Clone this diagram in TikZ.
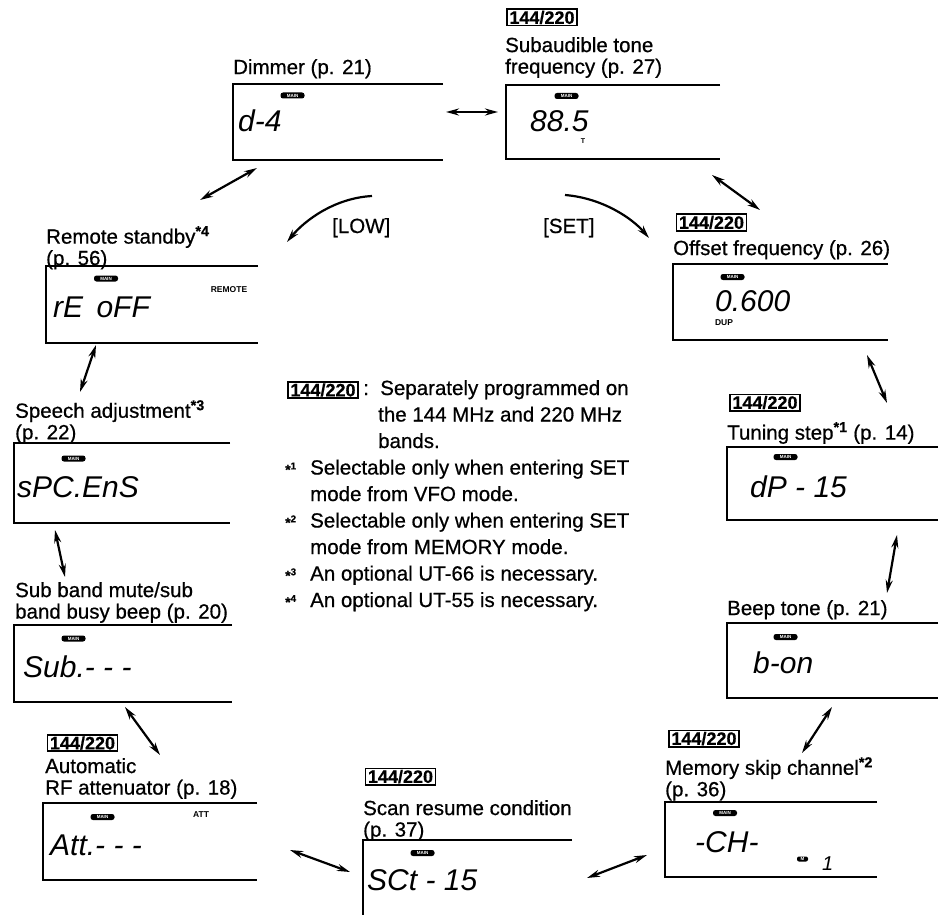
\documentclass[tikz,border=0pt]{standalone}
\usepackage{fontspec}
\setmainfont{Liberation Sans}[UprightFeatures={FakeBold=0.6},BoldFeatures={FakeBold=0.5}]
\newfontfamily\lcdfont{Liberation Sans}
\usetikzlibrary{arrows.meta}
\begin{document}
\begin{tikzpicture}[x=1pt,y=-1pt,
  lbl/.style={anchor=north west,inner sep=0pt,align=left,font=\fontsize{20.5}{21.5}\selectfont},
  bandbox/.style={draw,line width=1.6pt,inner xsep=2.5pt,inner ysep=1.5pt,font=\fontsize{18}{18}\selectfont\bfseries},
  lcdframe/.style={line width=1.5pt},
  lcdtxt/.style={anchor=base west,inner sep=0pt,font=\lcdfont\fontsize{30}{30}\selectfont\itshape},
  badge/.style={fill=black,rounded corners=2.5pt,minimum width=24pt,minimum height=6pt,inner sep=0pt,text=white,font=\lcdfont\fontsize{4.5}{5}\selectfont\bfseries},
  smalltag/.style={inner sep=0pt,font=\lcdfont\fontsize{8.5}{9}\selectfont\bfseries},
  dbl/.style={line width=2.2pt,{Stealth[length=13pt,width=7pt]}-{Stealth[length=13pt,width=7pt]}},
  sgl/.style={line width=2.2pt,-{Stealth[length=13pt,width=7pt]}},
  leg/.style={anchor=base west,inner sep=0pt,font=\fontsize{20.5}{21}\selectfont},
  star/.style={anchor=base west,inner sep=0pt,font=\fontsize{14}{14}\selectfont\bfseries},
]
\fill[white] (0,0) rectangle (940,915);
\useasboundingbox (0,0) rectangle (940,915);

% ---------- labels ----------
\node[bandbox] (bsub) at (542,17.5) {144/220};
\node[lbl] (lsub) at (505,37) {Subaudible tone\\frequency (p. 27)};
\node[lbl] (ldim) at (233,59) {Dimmer (p. 21)};
\node[lbl] (lrem) at (46,226) {Remote standby\textsuperscript{\bfseries *4}\\(p. 56)};
\node[bandbox] (boff) at (711.5,222.5) {144/220};
\node[lbl] (loff) at (673,240) {Offset frequency (p. 26)};
\node[lbl] (lspe) at (15,400) {Speech adjustment\textsuperscript{\bfseries *3}\\(p. 22)};
\node[bandbox] (btun) at (765,402.5) {144/220};
\node[lbl] (ltun) at (727,422) {Tuning step\textsuperscript{\bfseries *1} (p. 14)};
\node[lbl] (lsbb) at (15,582) {Sub band mute/sub\\band busy beep (p. 20)};
\node[lbl] (lbep) at (727,600) {Beep tone (p. 21)};
\node[bandbox] (brf) at (82.5,743) {144/220};
\node[lbl] (lrf) at (45,758) {Automatic\\RF attenuator (p. 18)};
\node[bandbox] (bmem) at (704,738.5) {144/220};
\node[lbl] (lmem) at (665,757) {Memory skip channel\textsuperscript{\bfseries *2}\\(p. 36)};
\node[bandbox] (bscn) at (400.5,776.5) {144/220};
\node[lbl] (lscn) at (363,800) {Scan resume condition\\(p. 37)};

% ---------- LCD frames (open on the right) ----------
\draw[lcdframe] (443,84) -- (233,84) -- (233,160) -- (443,160);
\draw[lcdframe] (720,85) -- (506,85) -- (506,159) -- (720,159);
\draw[lcdframe] (258,266) -- (46,266) -- (46,343) -- (258,343);
\draw[lcdframe] (888,264) -- (673,264) -- (673,340) -- (888,340);
\draw[lcdframe] (230,443) -- (14,443) -- (14,523) -- (230,523);
\draw[lcdframe] (938,447) -- (727,447) -- (727,520) -- (938,520);
\draw[lcdframe] (232,625) -- (14,625) -- (14,702) -- (232,702);
\draw[lcdframe] (938,623) -- (727,623) -- (727,698) -- (938,698);
\draw[lcdframe] (257,803) -- (43,803) -- (43,880) -- (257,880);
\draw[lcdframe] (877,802) -- (665,802) -- (665,877) -- (877,877);
\draw[lcdframe] (572,840) -- (363,840) -- (363,916);

% ---------- badges ----------
\node[badge] (mdim) at (292.5,95.5) {MAIN};
\node[badge] (msub) at (566.5,96) {MAIN};
\node[badge] (mrem) at (106,278.5) {MAIN};
\node[badge] (moff) at (732.5,277) {MAIN};
\node[badge] (mspe) at (73.5,458.5) {MAIN};
\node[badge] (mtun) at (785.5,457) {MAIN};
\node[badge] (msbb) at (73.5,638.5) {MAIN};
\node[badge] (mbep) at (785.5,637) {MAIN};
\node[badge] (mrf) at (102.5,817) {MAIN};
\node[badge] (mscn) at (422.5,853) {MAIN};
\node[badge] (mmem) at (725,813) {MAIN};
\node[badge,minimum width=11pt,minimum height=5pt,rounded corners=2pt] (mmm) at (802.5,859) {M};

% ---------- LCD readouts ----------
\node[lcdtxt] (ddim) at (238,132) {d-4};
\node[lcdtxt] (dsub) at (530,132) {88.5};
\node[smalltag,font=\lcdfont\fontsize{7}{7}\selectfont\bfseries] (tsub) at (583,141) {T};
\node[lcdtxt] (drem) at (53,317) {rE\, oFF};
\node[smalltag] (trem) at (229,290) {REMOTE};
\node[lcdtxt] (doff) at (715,311) {0.600};
\node[smalltag] (toff) at (724,323) {DUP};
\node[lcdtxt] (dspe) at (17,497) {sPC.EnS};
\node[lcdtxt] (dtun) at (750,497) {dP - 15};
\node[lcdtxt] (dsbb) at (23,677) {Sub.- - -};
\node[lcdtxt] (dbep) at (753,673) {b-on};
\node[lcdtxt] (drf) at (50,855) {Att.- - -};
\node[smalltag] (trf) at (201,815) {ATT};
\node[lcdtxt] (dscn) at (367,890) {SCt - 15};
\node[lcdtxt] (dmem) at (695,852) {-CH-};
\node[lcdtxt,font=\lcdfont\fontsize{20}{20}\selectfont\itshape] (dmem1) at (822,870) {1};

% ---------- key labels ----------
\node[leg] (klow) at (332,233) {[LOW]};
\node[leg] (kset) at (543,233) {[SET]};

% ---------- legend ----------
\node[bandbox] (bleg) at (323,390) {144/220};
\node[leg] (g1) at (363,395) {:\ \ Separately programmed on};
\node[leg] (g2) at (378,421.5) {the 144 MHz and 220 MHz};
\node[leg] (g3) at (378,448) {bands.};
\node[star] (s1) at (285,474.5) {*\textsuperscript{1}};
\node[leg] (g4) at (310,474.5) {Selectable only when entering SET};
\node[leg] (g5) at (310,501) {mode from VFO mode.};
\node[star] (s2) at (285,527.5) {*\textsuperscript{2}};
\node[leg] (g6) at (310,527.5) {Selectable only when entering SET};
\node[leg] (g7) at (310,554) {mode from MEMORY mode.};
\node[star] (s3) at (285,580.5) {*\textsuperscript{3}};
\node[leg] (g8) at (310,580.5) {An optional UT-66 is necessary.};
\node[star] (s4) at (285,607) {*\textsuperscript{4}};
\node[leg] (g9) at (310,607) {An optional UT-55 is necessary.};

% ---------- connector ends ----------
\coordinate (a1s) at (446,112);  \coordinate (a1e) at (498,112);
\coordinate (a2s) at (257,168);  \coordinate (a2e) at (200,200);
\coordinate (a3s) at (712,175);  \coordinate (a3e) at (760,210);
\coordinate (a4s) at (96,345);   \coordinate (a4e) at (80,392);
\coordinate (a5s) at (867,355);  \coordinate (a5e) at (887,403);
\coordinate (a6s) at (55,530);   \coordinate (a6e) at (65,577);
\coordinate (a7s) at (897,535);  \coordinate (a7e) at (887,593);
\coordinate (a8s) at (125,707);  \coordinate (a8e) at (160,755);
\coordinate (a9s) at (832,707);  \coordinate (a9e) at (802,753);
\coordinate (a10s) at (290,850); \coordinate (a10e) at (350,872);
\coordinate (a11s) at (587,878); \coordinate (a11e) at (647,855);
\coordinate (lows) at (372,196); \coordinate (lowe) at (287,242);
\coordinate (sets) at (565,195); \coordinate (sete) at (649,238);

\draw[dbl] (a1s) -- (a1e);
\draw[dbl] (a2s) -- (a2e);
\draw[dbl] (a3s) -- (a3e);
\draw[dbl] (a4s) -- (a4e);
\draw[dbl] (a5s) -- (a5e);
\draw[dbl] (a6s) -- (a6e);
\draw[dbl] (a7s) -- (a7e);
\draw[dbl] (a8s) -- (a8e);
\draw[dbl] (a9s) -- (a9e);
\draw[dbl] (a10s) -- (a10e);
\draw[dbl] (a11s) -- (a11e);
\draw[sgl] (lows) .. controls (335,198) and (305,220) .. (lowe);
\draw[sgl] (sets) .. controls (602,198) and (632,218) .. (sete);
\end{tikzpicture}
\end{document}
